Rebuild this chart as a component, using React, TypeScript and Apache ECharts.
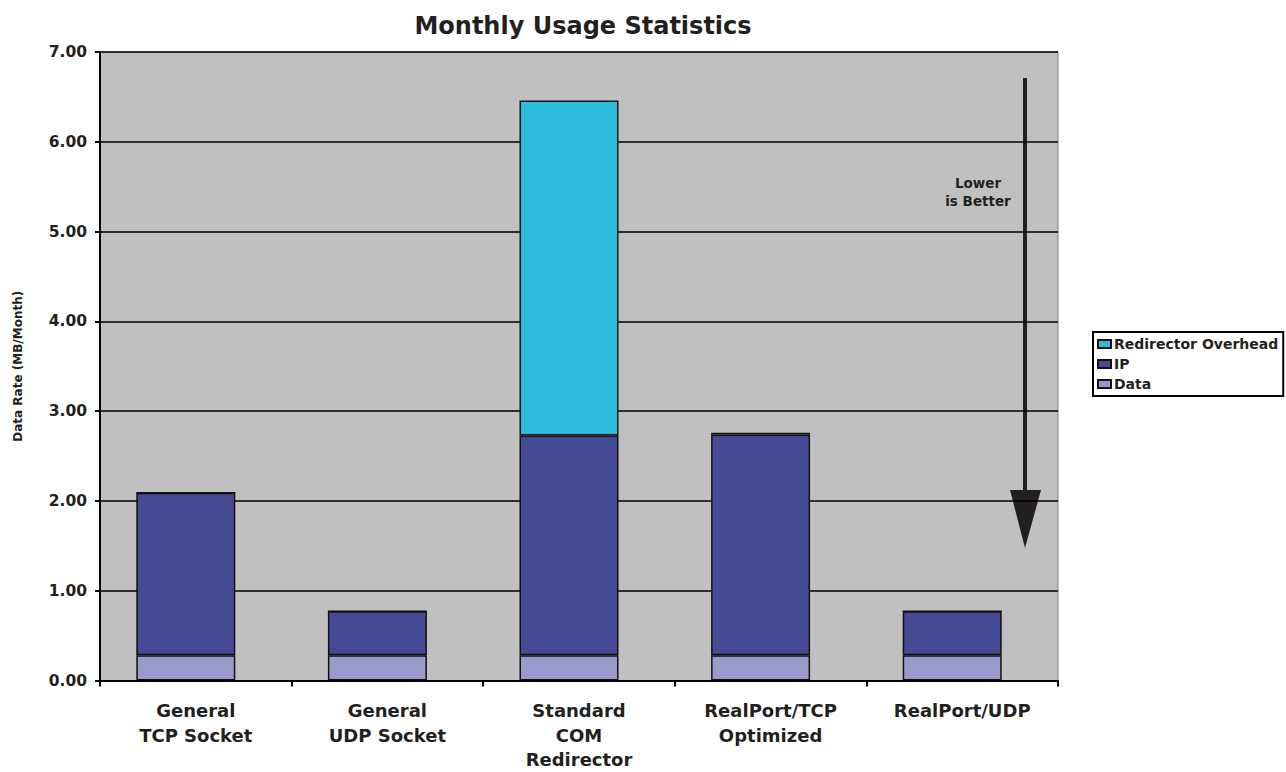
import React, { useEffect, useRef } from "react";
import * as echarts from "echarts";

const categories = [
  "General\nTCP Socket",
  "General\nUDP Socket",
  "Standard\nCOM\nRedirector",
  "RealPort/TCP\nOptimized",
  "RealPort/UDP",
];
const dataValues = [0.28, 0.28, 0.28, 0.28, 0.28];
const ipValues = [1.81, 0.49, 2.45, 2.46, 0.49];
const overheadValues = [0, 0, 3.73, 0.02, 0];
const spacerValues = [null, null, null, null, null];
const seriesNames = ["Data", "IP", "Redirector Overhead"];
const colors = { data: "#9999CC", ip: "#444A94", overhead: "#2BBCDE" };

const FONT = "DejaVu Sans";

export default function App() {
  const ref = useRef<HTMLDivElement>(null);
  useEffect(() => {
    const chart = echarts.init(ref.current!, null, { renderer: "svg" });
    const barStyle = (c: string) => ({ color: c, borderColor: "#111", borderWidth: 1.5 });
    chart.setOption({
      animation: false,
      backgroundColor: "#fff",
      textStyle: { fontFamily: FONT },
      title: {
        text: "Monthly Usage Statistics",
        left: 578,
        textAlign: "center",
        top: 9,
        textStyle: { fontFamily: FONT, fontWeight: "bold", fontSize: 24, color: "#231f20" },
      },
      grid: { left: 100, right: 228, top: 52, bottom: 90, containLabel: false, show: true, backgroundColor: "#C0C0C0", borderColor: "#808080", borderWidth: 1 },
      legend: {
        orient: "vertical",
        left: 1093,
        top: 332,
        data: ["Redirector Overhead", "IP", "Data"],
        itemWidth: 13,
        itemHeight: 8,
        itemGap: 4,
        padding: [4, 5, 4, 4],
        backgroundColor: "#fff",
        borderColor: "#000",
        borderWidth: 2,
        icon: "rect",
        textStyle: { fontFamily: FONT, fontWeight: "bold", fontSize: 14, color: "#231f20", padding: [0, 0, 0, -2], lineHeight: 16 },
      },
      xAxis: {
        type: "category",
        data: categories,
        axisLine: { lineStyle: { color: "#000", width: 2 } },
        axisTick: { show: true, length: 6, lineStyle: { color: "#000", width: 2 } },
        axisLabel: { fontFamily: FONT, fontWeight: "bold", fontSize: 18, color: "#231f20", lineHeight: 24.5, margin: 18, interval: 0 },
      },
      yAxis: {
        type: "value",
        min: 0,
        max: 7,
        interval: 1,
        name: "Data Rate (MB/Month)",
        nameLocation: "middle",
        nameGap: 76,
        nameTextStyle: { fontFamily: FONT, fontWeight: "bold", fontSize: 12, color: "#231f20" },
        axisLine: { show: true, lineStyle: { color: "#000", width: 2 } },
        axisTick: { show: true, length: 5, lineStyle: { color: "#000", width: 2 } },
        axisLabel: { fontFamily: FONT, fontWeight: "bold", fontSize: 15.5, color: "#231f20", margin: 13, formatter: (v: number) => v.toFixed(2) },
        splitLine: { lineStyle: { color: "#000", width: 1.5 } },
      },
      series: [
        { name: seriesNames[0], type: "bar", stack: "s", data: dataValues, barWidth: 99, barGap: "-79.8%", itemStyle: barStyle(colors.data) },
        { name: seriesNames[1], type: "bar", stack: "s", data: ipValues, barWidth: 99, itemStyle: barStyle(colors.ip) },
        { name: seriesNames[2], type: "bar", stack: "s", data: overheadValues, barWidth: 99, itemStyle: barStyle(colors.overhead) },
        { name: "spacer", type: "bar", stack: "d", data: spacerValues, barWidth: 99, barGap: "-79.8%", silent: true, itemStyle: { color: "transparent" } },
      ],
      graphic: [
        { type: "line", shape: { x1: 1025, y1: 78, x2: 1025, y2: 492 }, style: { stroke: "#231f20", lineWidth: 4 } },
        { type: "polygon", shape: { points: [[1010, 490], [1041, 490], [1025, 548]] }, style: { fill: "#231f20" } },
        { type: "text", x: 978, y: 174, style: { text: "Lower\nis Better", fill: "#231f20", font: `bold 13.5px "${FONT}"`, align: "center", lineHeight: 18 } },
      ],
    });
    return () => chart.dispose();
  }, []);
  return <div ref={ref} style={{ width: 1286, height: 772, position: "absolute", left: 0, top: 0 }} />;
}
